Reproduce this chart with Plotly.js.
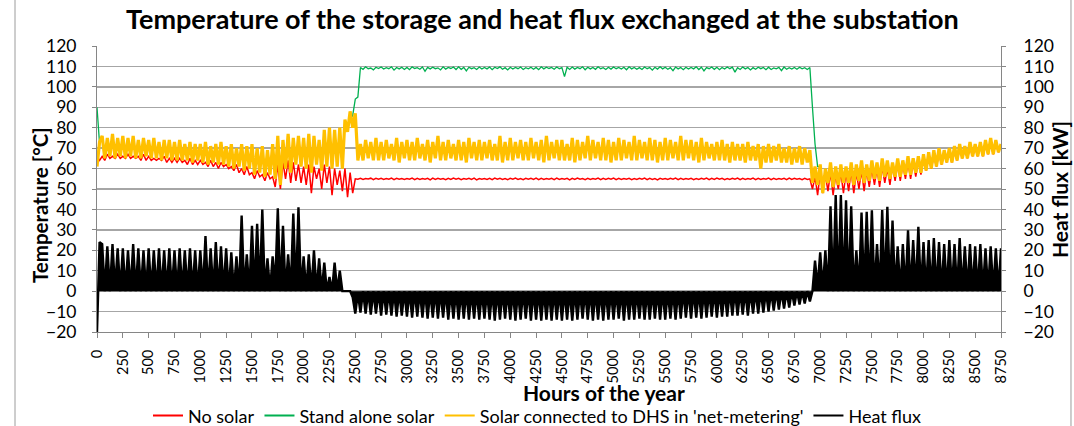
<!DOCTYPE html>
<html>
<head>
<meta charset="utf-8">
<script src="https://cdn.plot.ly/plotly-3.0.1.min.js"></script>
<style>
  html, body { margin: 0; padding: 0; background: #ffffff; }
  #chart { width: 1074px; height: 426px; }
</style>
</head>
<body>
<div id="chart"></div>
<script>
// Values. "A" values sit at hours 0, 50, 100, ... (daily peaks side),
// "B" values at hours 25, 75, 125, ... (troughs side). One group of 5 = 250 hours.
const HALF_STEP_HOURS = 25;

const noSolarA = [
  66, 66, 67, 66, 67,   66, 67, 66, 66, 67,   66, 65, 65, 66, 65,   65, 65, 64, 65, 64,
  64, 63, 64, 63, 63,   62, 61, 62, 60, 61,   58, 59, 57, 58, 56,   62, 63, 64, 63, 62,
  61, 62, 61, 60, 62,   61, 60, 59, 60, 58,   55, 55.2, 55.1, 55.3, 55.2,
  55.2, 55.1, 55.3, 55.2, 55.1,   55.1, 55.3, 55.2, 55.1, 55.2,   55.3, 55.2, 55.1, 55.2, 55.3,
  55.2, 55.1, 55.2, 55.3, 55.1,   55.1, 55.2, 55.3, 55.2, 55.1,   55.2, 55.3, 55.1, 55.2, 55.2,
  55.3, 55.2, 55.1, 55.2, 55.3,   55.1, 55.2, 55.2, 55.3, 55.1,   55.2, 55.1, 55.3, 55.2, 55.2,
  55.3, 55.2, 55.1, 55.2, 55.1,   55.2, 55.3, 55.2, 55.1, 55.2,   55.1, 55.2, 55.3, 55.2, 55.1,
  55.2, 55.1, 55.2, 55.3, 55.2,   55.3, 55.2, 55.1, 55.2, 55.3,   55.2, 55.1, 55.3, 55.2, 55.1,
  55.3, 55.2, 55.1, 55.2, 55.3,   55.2, 55.1, 55.2, 55.0, 56,
  58, 57, 58, 57, 58,   58, 59, 58, 59, 59,   60, 60, 61, 60, 61,   62, 62, 63, 63, 64,
  65, 65, 66, 67, 67,   68, 68, 69, 69, 70,   70, 71, 71, 72, 72,   71
];
const noSolarB = [
  64, 64, 65, 65, 65,   65, 65, 65, 64, 64,   64, 64, 64, 63, 63,   63, 63, 62, 62, 62,
  62, 61, 61, 60, 61,   60, 59, 58, 57, 57,   55, 56, 54, 55, 51,   50, 55, 53, 54, 53,
  52, 48, 55, 50, 53,   47, 52, 49, 46, 48,   54.8, 54.7, 54.9, 54.6, 54.8,
  54.7, 54.8, 54.6, 54.8, 54.7,   54.8, 54.6, 54.7, 54.8, 54.5,   54.7, 54.8, 54.6, 54.7, 54.8,
  54.6, 54.8, 54.7, 54.5, 54.8,   54.7, 54.6, 54.8, 54.7, 54.6,   54.8, 54.7, 54.6, 54.8, 54.7,
  54.6, 54.7, 54.8, 54.6, 54.7,   54.8, 54.5, 54.7, 54.8, 54.6,   54.7, 54.8, 54.6, 54.7, 54.8,
  54.6, 54.7, 54.8, 54.6, 54.7,   54.8, 54.6, 54.7, 54.5, 54.8,   54.7, 54.8, 54.6, 54.7, 54.8,
  54.6, 54.7, 54.8, 54.6, 54.7,   54.8, 54.6, 54.7, 54.8, 54.6,   54.7, 54.8, 54.6, 54.7, 54.8,
  54.6, 54.7, 54.8, 54.6, 54.7,   54.8, 54.6, 54.7, 50, 47,
  48, 49, 47, 50, 48,   49, 48, 50, 49, 51,   52, 51, 53, 52, 54,   54, 55, 55, 56, 57,
  59, 60, 61, 62, 63,   63, 64, 65, 65, 66,   66, 66, 67, 67, 68
];

const standAloneA = [
  90, 75, 74, 76, 74,   75, 74, 75, 73, 74,   73, 74, 72, 73, 73,   72, 73, 71, 72, 71,
  71, 72, 70, 71, 72,   70, 71, 69, 71, 70,   71, 69, 70, 68, 71,   75, 73, 76, 74, 75,
  74, 76, 75, 73, 78,   79, 78, 79, 83, 84,   94, 109.5, 109.8, 109.2, 109.6,
  109.7, 109.4, 109.8, 109.5, 109.6,   109.5, 109.8, 109.4, 109.7, 109.5,   109.6, 109.3, 109.8, 109.5, 109.7,
  109.8, 109.5, 109.6, 109.4, 109.7,   109.5, 109.7, 109.6, 109.8, 109.4,   109.6, 109.5, 109.7, 109.4, 109.6,
  109.5, 109.8, 109.6, 109.5, 109.7,   109.4, 109.6, 109.7, 109.5, 109.8,   109.6, 109.5, 109.8, 109.4, 109.6,
  109.7, 109.5, 109.6, 109.8, 109.5,   109.4, 109.7, 109.5, 109.6, 109.8,   109.6, 109.4, 109.7, 109.5, 109.6,
  109.5, 109.8, 109.6, 109.4, 109.7,   109.6, 109.5, 109.7, 109.6, 109.4,   109.7, 109.5, 109.4, 109.6, 109.5,
  109.6, 109.3, 109.5, 109.7, 109.4,   109.5, 109.6, 109.4, 109.5, 72,
  61, 59, 62, 60, 61,   60, 62, 61, 63, 61,   63, 62, 64, 63, 62,   64, 63, 65, 64, 65,
  66, 67, 68, 69, 68,   69, 70, 71, 70, 72,   71, 72, 73, 74, 73,   71
];
const standAloneB = [
  72, 66, 67, 66, 67,   66, 67, 66, 66, 67,   66, 66, 65, 66, 65,   65, 65, 65, 64, 65,
  64, 63, 64, 63, 63,   62, 61, 62, 60, 61,   58, 59, 57, 58, 56,   53, 61, 59, 63, 62,
  61, 59, 63, 60, 62,   61, 62, 61, 79, 86,   95, 108.6, 108.9, 108.3, 109.0,
  108.7, 108.9, 108.2, 108.8, 108.5,   108.4, 109.0, 108.6, 107.6, 108.8,   108.9, 108.3, 108.7, 109.0, 108.5,
  108.6, 107.8, 108.9, 108.5, 108.7,   108.8, 108.4, 109.0, 108.6, 108.3,   108.7, 108.9, 108.5, 108.8, 108.6,
  108.4, 108.8, 109.0, 108.6, 108.9,   105.0, 108.5, 108.7, 108.9, 108.4,   108.8, 108.6, 108.9, 108.5, 108.7,
  108.9, 108.7, 108.4, 108.8, 108.6,   108.5, 108.9, 108.2, 108.7, 108.8,   108.6, 107.9, 108.8, 108.4, 108.7,
  108.8, 108.5, 107.8, 108.9, 108.6,   108.4, 108.7, 108.9, 107.2, 108.5,   108.8, 108.3, 108.6, 108.9, 108.4,
  108.5, 108.8, 107.9, 108.6, 108.7,   108.6, 108.8, 108.5, 90, 61,
  49, 54, 52, 53, 54,   54, 53, 55, 54, 55,   56, 55, 57, 56, 57,   57, 58, 58, 59, 59,
  60, 61, 62, 63, 64,   64, 65, 66, 66, 67,   67, 67, 68, 68, 69
];

const dhsNetMeteringA = [
  61, 76, 75, 77, 75,   76, 75, 76, 74, 75,   74, 75, 73, 74, 74,   73, 74, 72, 73, 72,
  72, 73, 71, 72, 73,   71, 72, 70, 72, 71,   72, 70, 71, 69, 72,   76, 74, 77, 75, 76,
  75, 77, 76, 74, 79,   80, 79, 80, 84, 88,   87, 72, 74, 73, 75,
  73, 74, 72, 75, 73,   74, 73, 75, 72, 74,   73, 76, 73, 74, 72,   74, 73, 75, 73, 74,
  73, 74, 72, 76, 73,   75, 73, 74, 73, 75,   73, 74, 76, 73, 74,   74, 72, 75, 74, 73,
  76, 74, 73, 75, 74,   73, 75, 74, 73, 76,   74, 73, 75, 74, 73,   75, 74, 73, 76, 74,
  74, 73, 75, 73, 72,   73, 74, 72, 73, 72,   72, 73, 71, 72, 71,   72, 71, 72, 70, 71,
  70, 71, 70, 69, 61,
  62, 60, 63, 61, 62,   61, 63, 62, 64, 62,   64, 63, 65, 64, 63,   65, 64, 66, 65, 66,
  67, 68, 69, 70, 69,   70, 71, 72, 71, 73,   72, 73, 74, 75, 74,   72
];
const dhsNetMeteringB = [
  73, 65, 66, 65, 66,   65, 66, 65, 65, 66,   65, 65, 64, 65, 64,   64, 64, 64, 63, 64,
  63, 62, 63, 62, 62,   61, 60, 61, 59, 60,   57, 58, 56, 57, 55,   52, 60, 58, 62, 61,
  60, 58, 62, 59, 61,   60, 61, 60, 78, 80,   64, 64, 65, 64, 64,
  64, 65, 64, 63, 65,   64, 64, 65, 64, 63,   65, 64, 64, 65, 64,   64, 63, 65, 64, 64,
  65, 64, 64, 63, 64,   64, 65, 64, 64, 65,   64, 63, 64, 65, 64,   64, 64, 63, 64, 65,
  64, 65, 64, 64, 63,   64, 64, 65, 64, 64,   65, 64, 64, 63, 64,   64, 65, 64, 64, 65,
  64, 63, 64, 65, 64,   64, 64, 63, 64, 64,   63, 64, 64, 60, 63,   63, 64, 63, 63, 62,
  63, 62, 63, 53, 52,
  48, 53, 51, 52, 53,   53, 52, 54, 53, 54,   55, 54, 56, 55, 56,   56, 57, 57, 58, 58,
  59, 60, 61, 62, 63,   63, 64, 65, 65, 66,   66, 66, 67, 67, 68
];

const heatFluxA = [
  -20, 23, 22, 23, 21,   21, 20, 23, 21, 20,   21, 20, 21, 20, 21,   20, 21, 20, 21, 20,
  20, 27, 21, 24, 22,   21, 19, 17, 37, 18,   32, 33, 40, 16, 17,   40.5, 32, 18, 38, 41,
  17, 18, 20, 16, 14,   7, 14, 10, 0, 0,   -11, -10.5, -11, -11.5, -11,
  -12, -11.5, -12, -12.5, -12,   -12.5, -13, -12.5, -13, -13.5,   -13, -13.5, -13, -14, -13.5,
  -14, -13.5, -14, -13.5, -14,   -13.5, -14, -14.5, -14, -13.5,   -14, -14.5, -14, -13.5, -14.5,
  -14, -14.5, -14, -14.5, -14,   -14.5, -14, -14.5, -14, -13.5,   -14, -14.5, -14, -14.5, -14,
  -14, -13.5, -14.5, -14, -14,   -13.5, -14, -14, -13.5, -14,   -14, -13.5, -14, -13.5, -13,
  -13.5, -13, -13.5, -13, -12.5,   -13, -12.5, -12.5, -12, -12,   -11.5, -12, -11, -11, -10.5,
  -10, -9.5, -9, -8.5, -8,   -7, -6.5, -6, -5, 15,
  19, 20, 41.5, 47, 47,   44.5, 41.5, 20, 38.5, 38.8,   39.6, 23, 39.7, 41.3, 34.5,
  22, 23, 29.8, 25, 31.5,   24, 25, 26, 24, 23,   25, 23, 26, 22, 23,   22, 23, 21, 22, 21,
  21
];
const heatFluxB = [
  24, 0, 0, 1, 0,   0, 0, 0, 0, 0,   0, 0, 0, 0, 0,   0, 0, 0, 0, 0,
  0, 0, 0, 0, 0,   0, 0, 0, 0, 0,   0, 0, 0, 0, 3,   0, 0, 0, 0, 0,
  0, 0, 0, 0, 0,   0, 0, 0, 0, -3,   -1, 0, 0, 0, 0,
  0, 0, 0, 0, 0,   0, 0, 0, 0, 0,   0, 0, 0, 0, 0,   0, 0, 0, 0, 0,
  0, 0, 0, 0, 0,   0, 0, 0, 0, 0,   0, 0, 0, 0, 0,   0, 0, 0, 0, 0,
  0, 0, 0, 0, 0,   0, 0, 0, 0, 0,   0, 0, 0, 0, 0,   0, 0, 0, 0, 0,
  0, 0, 0, 0, 0,   0, 0, 0, 0, 0,   0, 0, 0, 0, 0,   0, 0, 0, 0, 0,
  0, 0, 0, 0, 2,
  1, 0, 0, 0, 0,   0, 0, 0, 0, 0,   0, 0, 0, 0, 0,   0, 0, 0, 0, 0,
  0, 0, 0, 0, 0,   0, 0, 0, 0, 0,   0, 0, 0, 0, 0
];

const seriesNames = ["No solar", "Stand alone solar", "Solar connected to DHS in 'net-metering'", "Heat flux"];
const seriesColors = ["#ff0000", "#00b050", "#ffc000", "#000000"];

function interleave(a, b) {
  const x = [], y = [];
  for (let i = 0; i < a.length; i++) {
    x.push(2 * i * HALF_STEP_HOURS); y.push(a[i]);
    if (i < b.length) { x.push((2 * i + 1) * HALF_STEP_HOURS); y.push(b[i]); }
  }
  return { x, y };
}

const FONT = "Lato, 'Open Sans', sans-serif";
const pairs = [[noSolarA, noSolarB], [standAloneA, standAloneB], [dhsNetMeteringA, dhsNetMeteringB], [heatFluxA, heatFluxB]];
const widths = [1.5, 1.3, 3.2, 2.4];
const traces = pairs.map((p, i) => {
  const d = interleave(p[0], p[1]);
  const t = {
    type: 'scatter', mode: 'lines', x: d.x, y: d.y, name: seriesNames[i],
    yaxis: i === 3 ? 'y2' : 'y', showlegend: false,
    line: { color: seriesColors[i], width: widths[i], simplify: false },
    hoverinfo: 'skip'
  };
  if (i === 3) { t.fill = 'tozeroy'; t.fillcolor = '#000000'; }
  return t;
});
// Legend entries (thin key lines, as in the reference); they carry no data points.
seriesNames.forEach((n, i) => {
  traces.push({
    type: 'scatter', mode: 'lines', x: [null], y: [null], name: n, showlegend: true,
    yaxis: i === 3 ? 'y2' : 'y', line: { color: seriesColors[i], width: 2 }, hoverinfo: 'skip'
  });
});

const axisCommon = {
  range: [-20, 120], dtick: 10, tick0: 0, ticks: 'outside', ticklen: 4, tickcolor: '#868686',
  showline: true, linecolor: '#868686', linewidth: 1, zeroline: false, automargin: false,
  tickfont: { family: FONT, size: 17.5, color: '#000' }
};

const layout = {
  width: 1074, height: 426,
  margin: { l: 97, r: 73, t: 46, b: 94, pad: 0, autoexpand: false },
  paper_bgcolor: '#ffffff', plot_bgcolor: '#ffffff',
  showlegend: true,
  title: {
    text: '<b>Temperature of the storage and heat flux exchanged at the substation</b>',
    font: { family: FONT, size: 27, color: '#000' },
    xref: 'container', x: 0.505, xanchor: 'center', yref: 'container', y: 0.953, yanchor: 'middle'
  },
  xaxis: {
    range: [0, 8750], dtick: 250, tick0: 0, tickangle: -90, ticks: 'outside', ticklen: 5, tickcolor: '#868686',
    showline: true, linecolor: '#868686', showgrid: false, zeroline: false, automargin: false,
    ticklabelstandoff: 6,
    tickfont: { family: FONT, size: 14.5, color: '#000' }
  },
  yaxis: Object.assign({}, axisCommon, {
    showgrid: true, gridcolor: '#a6a6a6', gridwidth: 1.3, ticklabelstandoff: 12
  }),
  yaxis2: Object.assign({}, axisCommon, {
    overlaying: 'y', side: 'right', showgrid: false, ticklabelstandoff: 14
  }),
  legend: {
    orientation: 'h', xref: 'container', x: 0.5, xanchor: 'center', yref: 'container', y: 0.024, yanchor: 'middle',
    font: { family: FONT, size: 18, color: '#000' }, bgcolor: 'rgba(0,0,0,0)', itemwidth: 30, tracegroupgap: 0
  },
  annotations: [
    {
      text: '<b>Hours of the year</b>', xref: 'paper', yref: 'paper', x: 0.561, y: -0.213,
      xanchor: 'center', yanchor: 'middle', showarrow: false,
      font: { family: FONT, size: 21, color: '#000' }
    },
    {
      text: '<b>Temperature [°C]</b>', xref: 'paper', yref: 'paper', x: -0.0631, y: 0.444, textangle: -90,
      xanchor: 'center', yanchor: 'middle', showarrow: false,
      font: { family: FONT, size: 20.5, color: '#000' }
    },
    {
      text: '<b>Heat flux [kW]</b>', xref: 'paper', yref: 'paper', x: 1.0655, y: 0.497, textangle: -90,
      xanchor: 'center', yanchor: 'middle', showarrow: false,
      font: { family: FONT, size: 21, color: '#000' }
    }
  ],
  shapes: [
    { type: 'line', xref: 'paper', yref: 'paper', x0: -0.0907, x1: -0.0907, y0: -0.33, y1: 1.17, line: { color: '#bdbdbd', width: 1.5 } },
    { type: 'line', xref: 'paper', yref: 'paper', x0: 1.0774, x1: 1.0774, y0: -0.33, y1: 1.17, line: { color: '#bdbdbd', width: 1.5 } }
  ],
  hovermode: false
};

Plotly.newPlot('chart', traces, layout, { staticPlot: true, displayModeBar: false });
</script>
</body>
</html>
